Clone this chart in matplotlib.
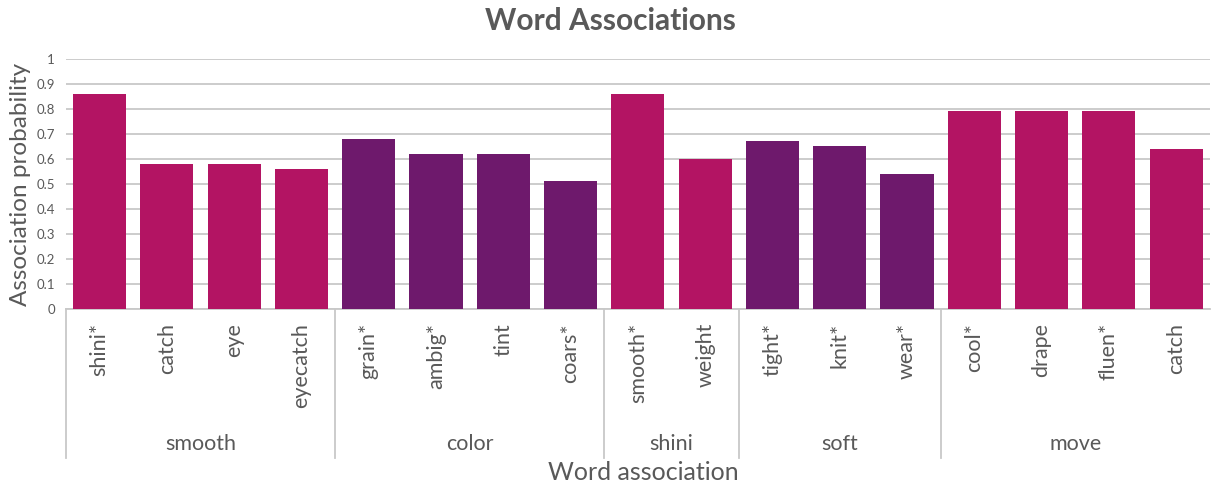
import matplotlib.pyplot as plt
import matplotlib.transforms as mtransforms

words = ["shini*", "catch", "eye", "eyecatch",
         "grain*", "ambig*", "tint", "coars*",
         "smooth*", "weight",
         "tight*", "knit*", "wear*",
         "cool*", "drape", "fluen*", "catch"]
values = [0.86, 0.58, 0.58, 0.56,
          0.68, 0.62, 0.62, 0.51,
          0.86, 0.60,
          0.67, 0.65, 0.54,
          0.79, 0.79, 0.79, 0.64]
groups = ["smooth", "color", "shini", "soft", "move"]
group_sizes = [4, 4, 2, 3, 4]

pink = "#B31463"
purple = "#6E196C"
group_colors = [pink, purple, pink, purple, pink]
text_color = "#595959"
grid_color = "#C8C8C8"

plt.rcParams["font.family"] = ["Lato", "DejaVu Sans"]

fig = plt.figure(figsize=(12.11, 4.87), dpi=100)
ax = fig.add_axes([0.0545, 0.3655, 0.9445, 0.5135])

colors = []
for c, n in zip(group_colors, group_sizes):
    colors += [c] * n

x = list(range(len(words)))
ax.bar(x, values, width=0.79, color=colors, zorder=3)

ax.set_xlim(-0.5, len(words) - 0.5)
ax.set_ylim(0, 1)
ax.set_yticks([i / 10 for i in range(11)])
ax.set_yticklabels(["0"] + [f"{i / 10:g}" for i in range(1, 10)] + ["1"],
                   color=text_color, fontsize=9.5)
ax.yaxis.grid(True, color=grid_color, linewidth=1.3, zorder=0)
ax.tick_params(axis="y", length=0, pad=8)
ax.tick_params(axis="x", length=0, pad=10)
ax.set_xticks(x)
ax.set_xticklabels(words, rotation=90, fontsize=15.5, color=text_color, va="top")

for s in ["top", "right", "left"]:
    ax.spines[s].set_visible(False)
ax.spines["bottom"].set_color(grid_color)
ax.spines["bottom"].set_linewidth(1.3)

# group separators and labels under the axis
trans = mtransforms.blended_transform_factory(ax.transData, ax.transAxes)
start = 0
bounds = [-0.5]
for g, n in zip(groups, group_sizes):
    mid = start + (n - 1) / 2
    ax.text(mid, -0.54, g, transform=trans, ha="center", va="center",
            fontsize=15.5, color=text_color)
    start += n
    bounds.append(start - 0.5)
for b in bounds[:-1]:
    ax.plot([b, b], [0, -0.595], transform=trans, color=grid_color,
            linewidth=1.3, clip_on=False)

ax.set_ylabel("Association probability", fontsize=17.5, color=text_color, labelpad=4)
ax.text(0.505, -0.655, "Word association", transform=ax.transAxes,
        ha="center", va="center", fontsize=18, color=text_color)
fig.suptitle("Word Associations", x=0.504, y=0.985, fontsize=21.5, fontweight="bold",
             color=text_color)

fig.savefig("out.png", dpi=100)
